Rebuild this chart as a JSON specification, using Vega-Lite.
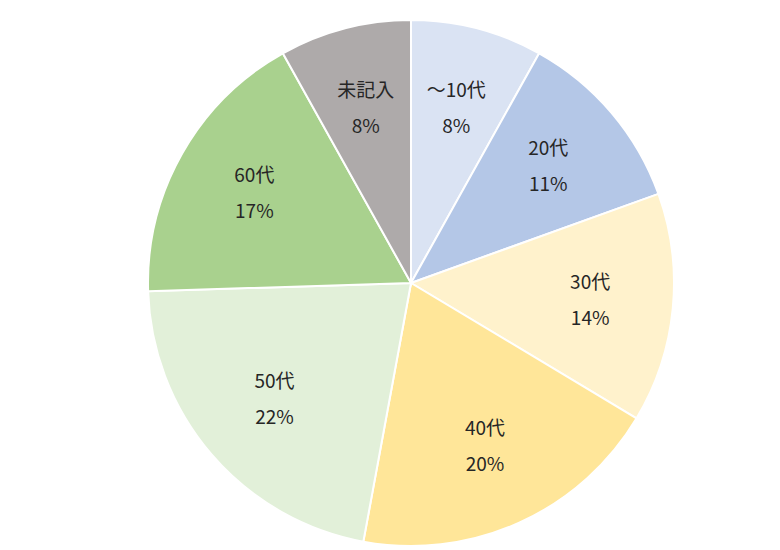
{
  "$schema": "https://vega.github.io/schema/vega-lite/v6.json",
  "width": 526,
  "height": 526,
  "padding": {"left": 148, "top": 20, "right": 106, "bottom": 4},
  "autosize": "none",
  "background": "white",
  "view": {"stroke": null},
  "data": {
    "values": [
      {"idx": 1, "category": "～10代", "value": 8.1, "pct": "8%"},
      {"idx": 2, "category": "20代", "value": 11.4, "pct": "11%"},
      {"idx": 3, "category": "30代", "value": 14.1, "pct": "14%"},
      {"idx": 4, "category": "40代", "value": 19.3, "pct": "20%"},
      {"idx": 5, "category": "50代", "value": 21.6, "pct": "22%"},
      {"idx": 6, "category": "60代", "value": 17.4, "pct": "17%"},
      {"idx": 7, "category": "未記入", "value": 8.1, "pct": "8%"}
    ]
  },
  "encoding": {
    "theta": {"field": "value", "type": "quantitative", "stack": true},
    "order": {"field": "idx", "type": "quantitative"},
    "color": {
      "field": "category",
      "type": "nominal",
      "legend": null,
      "scale": {
        "domain": ["～10代", "20代", "30代", "40代", "50代", "60代", "未記入"],
        "range": ["#DAE3F3", "#B4C7E7", "#FFF2CC", "#FFE699", "#E2F0D9", "#A9D18E", "#AEAAAA"]
      }
    }
  },
  "layer": [
    {"mark": {"type": "arc", "stroke": "white", "strokeWidth": 2}},
    {
      "mark": {"type": "text", "radius": 180, "dy": -18, "font": "Noto Sans CJK JP", "fontSize": 19, "baseline": "middle", "align": "center"},
      "encoding": {"text": {"field": "category"}, "color": {"value": "#262626"}}
    },
    {
      "mark": {"type": "text", "radius": 180, "dy": 18, "font": "Noto Sans CJK JP", "fontSize": 19, "baseline": "middle", "align": "center"},
      "encoding": {"text": {"field": "pct"}, "color": {"value": "#262626"}}
    }
  ]
}
